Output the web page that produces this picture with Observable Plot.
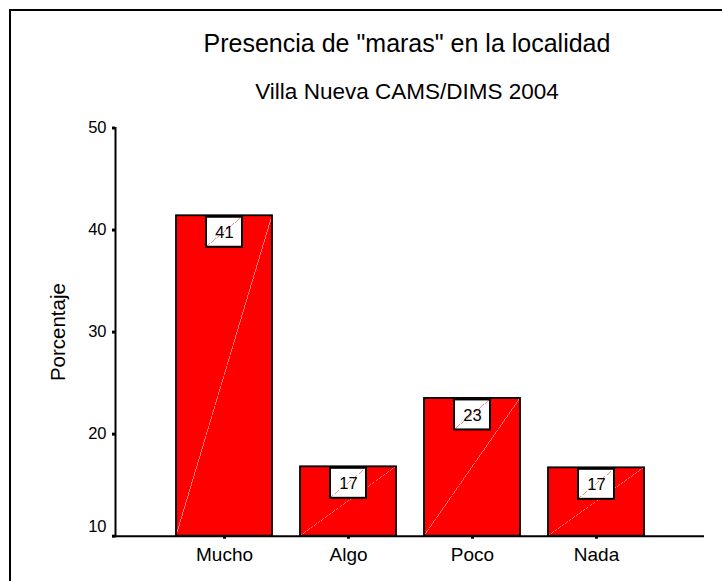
<!DOCTYPE html>
<html>
<head>
<meta charset="utf-8">
<script src="https://cdn.jsdelivr.net/npm/d3@7"></script>
<script src="https://cdn.jsdelivr.net/npm/@observablehq/plot@0.6"></script>
<style>
  body { margin: 0; background: #fff; }
  #wrap { position: relative; width: 722px; height: 581px; overflow: hidden; background: #fff; }
  #frame { position: absolute; left: 9px; top: 9px; width: 800px; height: 700px;
           border-left: 2.5px solid #000; border-top: 2.5px solid #000; pointer-events: none; }
  #head { position: relative; height: 110px; }
  .t { position: absolute; left: 0; width: 814px; text-align: center; color: #000; white-space: nowrap;
       font-family: "Liberation Sans", Arial, sans-serif; }
  #title { top: 30.8px; font-size: 25px; line-height: 25px; }
  #sub { top: 80.7px; font-size: 22.5px; line-height: 22.5px; }
  #chart svg { display: block; }
</style>
</head>
<body>
<svg width="0" height="0" style="position:absolute">
  <defs>
    <linearGradient id="diagRed" x1="0" y1="0" x2="1" y2="1">
      <stop offset="0" stop-color="#ff0000"/>
      <stop offset="0.4975" stop-color="#ff0000"/>
      <stop offset="0.4975" stop-color="#ff7a7a"/>
      <stop offset="0.5025" stop-color="#ff7a7a"/>
      <stop offset="0.5025" stop-color="#ff0000"/>
      <stop offset="1" stop-color="#ff0000"/>
    </linearGradient>
    <linearGradient id="diagWhite" x1="0" y1="0" x2="1" y2="1">
      <stop offset="0" stop-color="#ffffff"/>
      <stop offset="0.494" stop-color="#ffffff"/>
      <stop offset="0.494" stop-color="#ff8a8a"/>
      <stop offset="0.506" stop-color="#ff8a8a"/>
      <stop offset="0.506" stop-color="#ffffff"/>
      <stop offset="1" stop-color="#ffffff"/>
    </linearGradient>
  </defs>
</svg>
<div id="wrap">
  <div id="head">
    <div class="t" id="title">Presencia de "maras" en la localidad</div>
    <div class="t" id="sub">Villa Nueva CAMS/DIMS 2004</div>
  </div>
  <div id="chart"></div>
  <div id="frame"></div>
</div>
<script>
const categories = ["Mucho", "Algo", "Poco", "Nada"];
const values = [41.4, 16.8, 23.5, 16.7];
const valueLabels = ["41", "17", "23", "17"];
const yTicks = [10, 20, 30, 40, 50];
const yTitle = "Porcentaje";
const yBase = 10;

const data = categories.map((c, i) => ({cat: c, value: values[i], label: valueLabels[i]}));

const chart = Plot.plot({
  width: 722,
  height: 471,
  marginLeft: 115,
  marginRight: 18,
  marginTop: 17.5,
  marginBottom: 45.3,
  style: {fontFamily: "'Liberation Sans', Arial, sans-serif", fontSize: "16px", color: "#000", background: "transparent", overflow: "visible"},
  x: {domain: categories, paddingInner: 0.229, paddingOuter: 0.48, label: null},
  y: {domain: [yTicks[0], yTicks[yTicks.length - 1]], label: null},
  marks: [
    Plot.barY(data, {x: "cat", y1: () => yBase, y2: "value", fill: "url(#diagRed)", stroke: "#000", strokeWidth: 1.8}),
    Plot.barY(data, {x: "cat", y1: "value", y2: "value", insetLeft: 30, insetRight: 30, insetTop: 1.5, insetBottom: -31.5,
                     fill: "url(#diagWhite)", stroke: "#000", strokeWidth: 2}),
    Plot.text(data, {x: "cat", y: "value", text: "label", dy: 17, fontSize: 16.5, lineAnchor: "middle", fill: "#000"}),
    Plot.ruleY([yBase], {stroke: "#000", strokeWidth: 2}),
    Plot.frame({anchor: "left", stroke: "#000", strokeWidth: 2}),
    Plot.axisX({tickSize: 3, strokeWidth: 3, tickPadding: 8, fontSize: 19, label: null}),
    Plot.axisY(yTicks, {tickSize: 3, strokeWidth: 3, fill: "none", label: null}),
    Plot.axisY(yTicks.slice(1), {tickSize: 0, tickPadding: 9, fontSize: 16.5, label: null}),
    Plot.axisY(yTicks.slice(0, 1), {tickSize: 0, tickPadding: 9, fontSize: 16.5, dy: -9, label: null}),
    Plot.text([yTitle], {frameAnchor: "left", rotate: -90, dx: -57, fontSize: 20.5, textAnchor: "middle", lineAnchor: "middle", fill: "#000"})
  ]
});
document.getElementById("chart").appendChild(chart);
</script>
</body>
</html>
